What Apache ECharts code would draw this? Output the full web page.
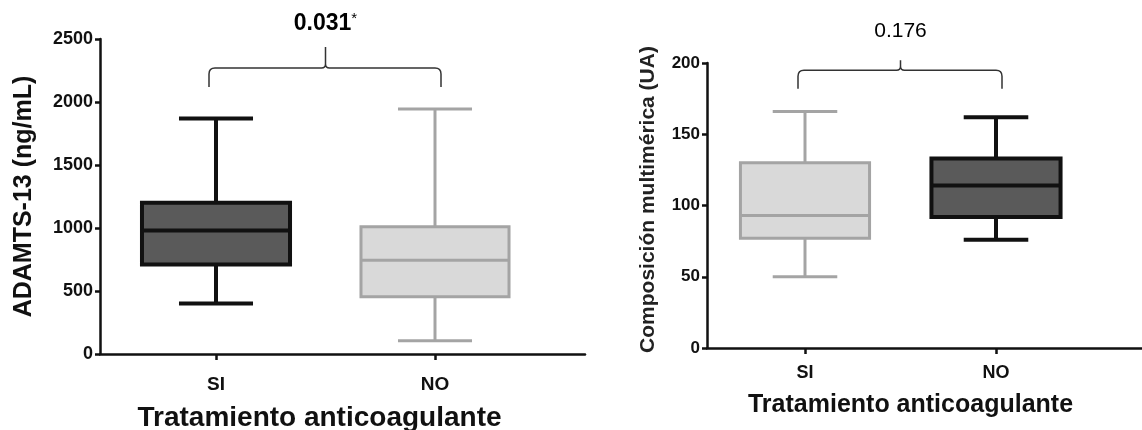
<!DOCTYPE html>
<html>
<head>
<meta charset="utf-8">
<script src="https://cdn.jsdelivr.net/npm/echarts@6/dist/echarts.min.js"></script>
<style>
html,body{margin:0;padding:0;background:#fff;}
#c{width:1142px;height:430px;}
</style>
</head>
<body>
<div id="c"></div>
<script>
// ---------- data ----------
const categories = ['SI', 'NO'];
// ADAMTS-13 (ng/mL): [SI, NO]
const adamtsMin    = [400, 105];
const adamtsQ1     = [710, 455];
const adamtsMedian = [980, 745];
const adamtsQ3     = [1200, 1010];
const adamtsMax    = [1870, 1945];
// Composición multimérica (UA): [SI, NO]
const compMin    = [50, 76];
const compQ1     = [77, 92];
const compMedian = [93, 114];
const compQ3     = [130, 133];
const compMax    = [166, 162];
// y-axis ticks
const adamtsTicks = [0, 500, 1000, 1500, 2000, 2500];
const compTicks   = [0, 50, 100, 150, 200];
// comparison annotations (p-values) and bracket level in data units
const adamtsP = '0.031';
const adamtsSig = '*';
const compP = '0.176';
const adamtsBracket = [2270, 2119, 2437, 2619]; // level, end, peak, label
const compBracket   = [195, 182, 202, 222];

// ---------- styles ----------
const FONT = '"Liberation Sans", Arial, Helvetica, sans-serif';
const DARK = {fill: '#5a5a5a', stroke: '#111111', lw: 4};
const LIGHT = {fill: '#d9d9d9', stroke: '#a4a4a4', lw: 3};

function boxData(mn, q1, md, q3, mx) {
  return categories.map((c, i) => [i, mn[i], q1[i], md[i], q3[i], mx[i]]);
}

function boxRender(styles) {
  return function (params, api) {
    const ci = api.value(0);
    const st = styles[ci];
    const cx = api.coord([ci, 0])[0];
    const band = api.size([1, 0])[0];
    const hw = band * 0.338;
    const cap = hw / 2;
    const y = k => api.coord([ci, api.value(k)])[1];
    const yMin = y(1), yQ1 = y(2), yMed = y(3), yQ3 = y(4), yMax = y(5);
    const ls = {stroke: st.stroke, lineWidth: st.lw, fill: null};
    return {
      type: 'group',
      children: [
        {type: 'line', shape: {x1: cx, y1: yMax, x2: cx, y2: yQ3}, style: ls},
        {type: 'line', shape: {x1: cx - cap, y1: yMax, x2: cx + cap, y2: yMax}, style: ls},
        {type: 'line', shape: {x1: cx, y1: yQ1, x2: cx, y2: yMin}, style: ls},
        {type: 'line', shape: {x1: cx - cap, y1: yMin, x2: cx + cap, y2: yMin}, style: ls},
        {type: 'rect', shape: {x: cx - hw, y: yQ3, width: 2 * hw, height: yQ1 - yQ3},
          style: {fill: st.fill, stroke: st.stroke, lineWidth: st.lw}},
        {type: 'line', shape: {x1: cx - hw, y1: yMed, x2: cx + hw, y2: yMed}, style: ls}
      ]
    };
  };
}

function bracketRender(label, rich) {
  return function (params, api) {
    const lv = api.value(1), endV = api.value(2), peakV = api.value(3), labV = api.value(4);
    const xl = api.coord([0, lv])[0] - 7;
    const xr = api.coord([1, lv])[0] + 6;
    const xm = (api.coord([0, lv])[0] + api.coord([1, lv])[0]) / 2;
    const y0 = api.coord([0, lv])[1];
    const ye = api.coord([0, endV])[1];
    const yp = api.coord([0, peakV])[1];
    const yl = api.coord([0, labV])[1];
    const r = 6, m = 4;
    const path =
      'M' + xl + ' ' + ye + ' L' + xl + ' ' + (y0 + r) + ' Q' + xl + ' ' + y0 + ' ' + (xl + r) + ' ' + y0 +
      ' L' + (xm - m) + ' ' + y0 + ' Q' + xm + ' ' + y0 + ' ' + xm + ' ' + (y0 - m) +
      ' L' + xm + ' ' + yp +
      ' M' + xm + ' ' + (y0 - m) + ' Q' + xm + ' ' + y0 + ' ' + (xm + m) + ' ' + y0 +
      ' L' + (xr - r) + ' ' + y0 + ' Q' + xr + ' ' + y0 + ' ' + xr + ' ' + (y0 + r) +
      ' L' + xr + ' ' + ye;
    return {
      type: 'group',
      children: [
        {type: 'path', shape: {pathData: path}, style: {stroke: '#333', lineWidth: 1.5, fill: null}},
        {type: 'text', x: xm, y: yl, style: Object.assign({
          text: label, align: 'center', verticalAlign: 'middle', fontFamily: FONT
        }, rich)}
      ]
    };
  };
}

const axisLineStyle = {color: '#111', width: 2.5};
const yLabel = {fontFamily: FONT, fontWeight: 'bold', color: '#111', formatter: v => String(v)};
const gridBase = {containLabel: false, outerBoundsMode: 'none'};

const option = {
  animation: false,
  backgroundColor: '#fff',
  grid: [
    Object.assign({left: 100, top: 39, width: 485, height: 315}, gridBase),
    Object.assign({left: 106.5, top: 39, width: 438, height: 315}, gridBase),
    Object.assign({left: 707, top: 63, width: 440, height: 285}, gridBase),
    Object.assign({left: 709.5, top: 63, width: 382, height: 285}, gridBase)
  ],
  xAxis: [
    {gridIndex: 0, type: 'value', min: 0, max: 1, axisLine: {show: true, lineStyle: axisLineStyle},
      axisTick: {show: false}, axisLabel: {show: false}, splitLine: {show: false}},
    {gridIndex: 1, type: 'category', data: categories, axisLine: {show: false},
      axisTick: {show: true, alignWithLabel: true, length: 6, lineStyle: axisLineStyle},
      axisLabel: {fontFamily: FONT, fontWeight: 'bold', fontSize: 19, color: '#111', margin: 21},
      name: 'Tratamiento anticoagulante', nameLocation: 'middle', nameGap: 50,
      nameTextStyle: {fontFamily: FONT, fontWeight: 'bold', fontSize: 28, color: '#111', padding: [0, 12, 0, 0]}},
    {gridIndex: 2, type: 'value', min: 0, max: 1, axisLine: {show: true, lineStyle: axisLineStyle},
      axisTick: {show: false}, axisLabel: {show: false}, splitLine: {show: false}},
    {gridIndex: 3, type: 'category', data: categories, axisLine: {show: false},
      axisTick: {show: true, alignWithLabel: true, length: 6, lineStyle: axisLineStyle},
      axisLabel: {fontFamily: FONT, fontWeight: 'bold', fontSize: 18, color: '#111', margin: 16},
      name: 'Tratamiento anticoagulante', nameLocation: 'middle', nameGap: 45,
      nameTextStyle: {fontFamily: FONT, fontWeight: 'bold', fontSize: 25, color: '#111', padding: [0, 0, 0, 20]}}
  ],
  yAxis: [
    {gridIndex: 0, type: 'value', min: adamtsTicks[0], max: adamtsTicks[adamtsTicks.length - 1],
      interval: adamtsTicks[1] - adamtsTicks[0],
      axisLine: {show: true, lineStyle: axisLineStyle},
      axisTick: {show: true, length: 5, lineStyle: axisLineStyle},
      axisLabel: Object.assign({fontSize: 18, margin: 7}, yLabel),
      splitLine: {show: false},
      name: 'ADAMTS-13 (ng/mL)', nameLocation: 'middle', nameGap: 63,
      nameTextStyle: {fontFamily: FONT, fontWeight: 'bold', fontSize: 25, color: '#111'}},
    {gridIndex: 1, type: 'value', min: adamtsTicks[0], max: adamtsTicks[adamtsTicks.length - 1], show: false},
    {gridIndex: 2, type: 'value', min: compTicks[0], max: compTicks[compTicks.length - 1],
      interval: compTicks[1] - compTicks[0],
      axisLine: {show: true, lineStyle: axisLineStyle},
      axisTick: {show: true, length: 5, lineStyle: axisLineStyle},
      axisLabel: Object.assign({fontSize: 17, margin: 7}, yLabel),
      splitLine: {show: false},
      name: 'Composición multimérica (UA)', nameLocation: 'middle', nameGap: 48,
      nameTextStyle: {fontFamily: FONT, fontWeight: 'bold', fontSize: 21, color: '#222', padding: [0, 0, 0, 12]}},
    {gridIndex: 3, type: 'value', min: compTicks[0], max: compTicks[compTicks.length - 1], show: false}
  ],
  series: [
    {type: 'custom', xAxisIndex: 1, yAxisIndex: 1, renderItem: boxRender([DARK, LIGHT]),
      data: boxData(adamtsMin, adamtsQ1, adamtsMedian, adamtsQ3, adamtsMax), encode: {x: 0, y: [1, 2, 3, 4, 5]}},
    {type: 'custom', xAxisIndex: 3, yAxisIndex: 3, renderItem: boxRender([LIGHT, DARK]),
      data: boxData(compMin, compQ1, compMedian, compQ3, compMax), encode: {x: 0, y: [1, 2, 3, 4, 5]}},
    {type: 'custom', xAxisIndex: 1, yAxisIndex: 1, clip: false,
      renderItem: bracketRender('{b|' + adamtsP + '}{s|' + adamtsSig + '}', {
        rich: {b: {fontFamily: FONT, fontWeight: 'bold', fontSize: 23, color: '#1a1a1a'},
               s: {fontFamily: FONT, fontSize: 15, color: '#333', verticalAlign: 'top', lineHeight: 26}}
      }),
      data: [[0].concat(adamtsBracket)], encode: {x: 0, y: 1}},
    {type: 'custom', xAxisIndex: 3, yAxisIndex: 3, clip: false,
      renderItem: bracketRender(compP, {fontSize: 21, color: '#333'}),
      data: [[0].concat(compBracket)], encode: {x: 0, y: 1}}
  ]
};

const chart = echarts.init(document.getElementById('c'), null, {renderer: 'canvas'});
chart.setOption(option);
</script>
</body>
</html>
